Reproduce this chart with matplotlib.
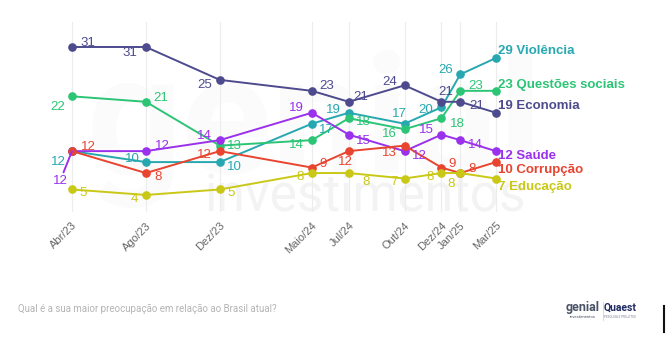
import matplotlib
matplotlib.use("Agg")
import matplotlib.pyplot as plt
import matplotlib.dates as mdates
import pandas as pd

# Survey waves and tick labels
periods = ["2023-04", "2023-08", "2023-12", "2024-05", "2024-07",
           "2024-10", "2024-12", "2025-01", "2025-03"]
tick_labels = ["Abr/23", "Ago/23", "Dez/23", "Maio/24", "Jul/24",
               "Out/24", "Dez/24", "Jan/25", "Mar/25"]

# Share of respondents (%) naming each issue as their main concern
violencia = [12, 10, 10, 17, 19, 17, 20, 26, 29]
questoes_sociais = [22, 21, 13, 14, 18, 16, 18, 23, 23]
economia = [31, 31, 25, 23, 21, 24, 21, 21, 19]
saude = [12, 12, 14, 19, 15, 12, 15, 14, 12]
corrupcao = [12, 8, 12, 9, 12, 13, 9, 8, 10]
educacao = [5, 4, 5, 8, 8, 7, 8, 8, 7]

series_names = ["Violência", "Questões sociais", "Economia",
                "Saúde", "Corrupção", "Educação"]
series_values = [violencia, questoes_sociais, economia,
                 saude, corrupcao, educacao]

colors = {
    "Violência": "#27a8b1",
    "Questões sociais": "#2cc576",
    "Economia": "#4d4a8e",
    "Saúde": "#9a31ec",
    "Corrupção": "#e8442f",
    "Educação": "#c9c816",
}

# Per-point label offsets in pixels (dx, dy) - dy positive = upward
label_offsets = {
    "Violência": [(-14, -11), (-14, 3), (15, -5), (15, -6), (-15, 3),
                  (-5, 10), (-16, -3), (-15, 4)],
    "Questões sociais": [(-14, -11), (15, 4), (15, 0), (-15, -5), (15, -4),
                         (-15, -5), (16, -6), (15, 5)],
    "Economia": [(16, 4), (-16, -6), (-15, -5), (15, 5), (12, 5),
                 (-15, 3), (4, 10), (16, -4)],
    "Saúde": [(-12, -30), (16, 5), (-15, 4), (-15, 5), (15, -6),
              (15, -5), (-15, 5), (15, -5)],
    "Corrupção": [(16, 4), (12, -4), (-15, -4), (11, 4), (-3, -11),
                  (-15, -7), (11, 4), (12, 4)],
    "Educação": [(11, -4), (-12, -4), (11, -4), (-12, -4), (17, -9),
                 (-11, -3), (-11, -4), (-9, -11)],
}
end_offsets = {
    "Violência": 7, "Questões sociais": 6, "Economia": 7,
    "Saúde": -5, "Corrupção": -8, "Educação": -8,
}

dates = pd.to_datetime(periods)
xnum = mdates.date2num(dates)

W, H = 666, 342
fig = plt.figure(figsize=(W / 100, H / 100), dpi=100)
fig.patch.set_facecolor("white")

# background layer for the faint brand watermark and footer
bg = fig.add_axes([0, 0, 1, 1], zorder=0)
bg.set_axis_off()
bg.set_xlim(0, W)
bg.set_ylim(H, 0)
bg.text(365, 197, "investimentos", fontsize=37, color="#f3f3f3",
        family="Roboto", ha="center", va="center")
bg.text(315, 128, "genial", fontsize=120, color="#fbfbfb",
        family="Roboto", fontweight="bold", ha="center", va="center")

# plotting band: 22 px .. 212 px from the top
ax_top, ax_bot = 22, 212
ax = fig.add_axes([0, 1 - ax_bot / H, 1, (ax_bot - ax_top) / H], zorder=1)
ax.set_facecolor("none")

# horizontal scale: first wave at 72 px, last at 496 px
x0_px, x1_px = 72, 496
px_per_day = (x1_px - x0_px) / (xnum[-1] - xnum[0])
ax.set_xlim(xnum[0] - x0_px / px_per_day, xnum[0] + (W - x0_px) / px_per_day)
# vertical scale: 31 at 47 px, 5.48 px per point
y_ref, y_ref_px, px_per_unit = 31, 47, 5.48
ax.set_ylim(y_ref - (ax_bot - y_ref_px) / px_per_unit,
            y_ref + (y_ref_px - ax_top) / px_per_unit)

for s in ax.spines.values():
    s.set_visible(False)
ax.set_yticks([])
ax.set_xticks(xnum)
ax.set_xticklabels(tick_labels, rotation=45, ha="right", va="top",
                   rotation_mode="anchor", fontsize=8, color="#666666",
                   family="Liberation Sans")
ax.tick_params(axis="x", length=0, pad=6)
for xv in xnum:
    ax.axvline(xv, color="#ececec", lw=0.8, zorder=0)

label_font = dict(family="Liberation Sans", fontsize=9.5)

for name, vals in zip(series_names, series_values):
    c = colors[name]
    ax.plot(xnum, vals, color=c, lw=1.4, marker="o", markersize=5.2,
            zorder=3, solid_capstyle="round")
    offs = label_offsets[name]
    for i, (xv, v) in enumerate(zip(xnum[:-1], vals[:-1])):
        dx, dy = offs[i]
        kw = {}
        if name == "Saúde" and i == 0:
            kw["arrowprops"] = dict(arrowstyle="-", color=c, lw=1.4,
                                    shrinkA=0, shrinkB=0)
        ax.annotate(str(v), (xv, v), xytext=(dx, dy),
                    textcoords="offset pixels", ha="center", va="center",
                    color=c, zorder=4, annotation_clip=False, **label_font,
                    **kw)
    ax.annotate(f"{vals[-1]} {name}", (xnum[-1], vals[-1]),
                xytext=(2, end_offsets[name]), textcoords="offset pixels",
                ha="left", va="center", color=c, fontweight="bold",
                zorder=4, annotation_clip=False, **label_font)

# footer
bg.text(18, 309,
        "Qual é a sua maior preocupação em relação ao Brasil atual?",
        fontsize=7, color="#b4b4b4", family="Roboto", ha="left",
        va="center")
bg.text(583, 308, "genial", fontsize=9, color="#4a5366",
        family="Roboto", fontweight="bold", ha="center", va="center")
bg.text(583, 317, "investimentos", fontsize=3, color="#4a5366",
        family="Roboto", ha="center", va="center")
bg.text(620, 308, "Quaest", fontsize=7.5, color="#1f2a63",
        family="Roboto", fontweight="bold", ha="center", va="center")
bg.text(620, 317, "PESQUISA E PROJETOS", fontsize=2.2,
        color="#7a7f99", family="Roboto", ha="center", va="center")
bg.plot([603, 603], [302, 320], color="#d0d0d0", lw=0.6)
bg.plot([664, 664], [306, 332], color="#111111", lw=1.5)

fig.savefig("out.png", dpi=100, facecolor="white")
